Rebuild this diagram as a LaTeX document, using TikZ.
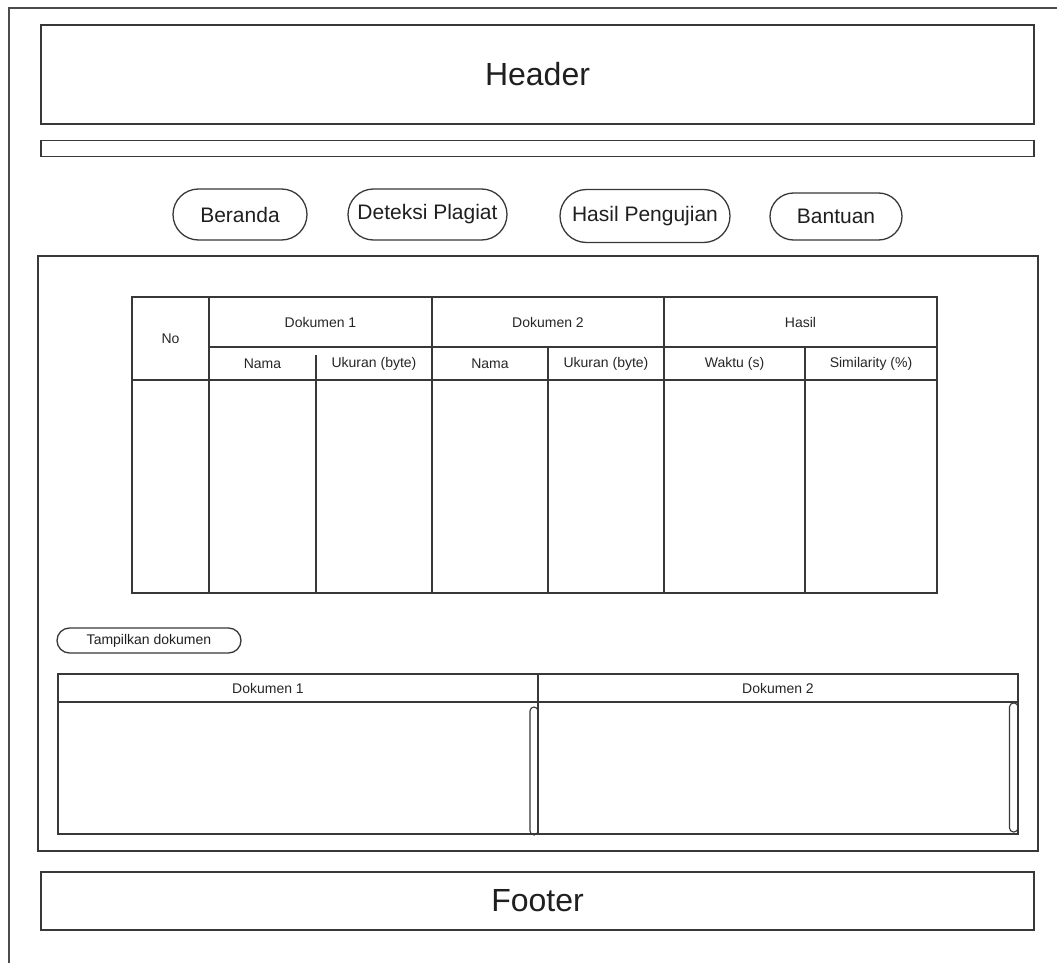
\documentclass[tikz,border=0pt]{standalone}
\usepackage{fontspec}
\setmainfont{Liberation Sans}
\usetikzlibrary{shapes.misc}
\begin{document}
\begin{tikzpicture}[x=1pt,y=-1pt,
  ink/.style={draw=black!78,line width=1.3pt},
  panel/.style={ink,rectangle,inner sep=0pt,text=black!88},
  pill/.style={ink,rounded rectangle,inner sep=0pt,
    minimum height=51pt,text=black!88,font=\fontsize{21}{25}\selectfont},
  bigtext/.style={font=\fontsize{32}{38}\selectfont},
  cell/.style={inner sep=0pt,text=black!85,font=\fontsize{14}{17}\selectfont},
  scroll/.style={ink,line width=1.1pt,rounded corners=4pt}
]
\useasboundingbox (0,0) rectangle (1057,963);

% page frame (open to the right and bottom)
\coordinate (pgbl) at (9,963);
\coordinate (pgtl) at (9,8);
\coordinate (pgtr) at (1057,8);
\draw[ink,draw=black!70] (pgbl) -- (pgtl) -- (pgtr);

% header, separator bar, footer
\node[panel,bigtext,minimum width=993pt,minimum height=99pt] (header) at (537.5,74.5) {Header};
\node[panel,minimum width=993pt,minimum height=16pt] (bar) at (537.5,148.5) {};
\node[panel,bigtext,minimum width=993pt,minimum height=58pt] (footer) at (537.5,901) {Footer};

% navigation buttons
\node[pill,minimum width=134pt] (beranda) at (240,214.5) {Beranda};
\node[pill,minimum width=159pt] (deteksi) at (427.5,214.5) {Deteksi Plagiat};
\node[pill,minimum width=170pt,minimum height=53pt] (hasil) at (645,216) {Hasil Pengujian};
\node[pill,minimum width=132pt,minimum height=47pt] (bantuan) at (836,216.5) {Bantuan};

% content area
\node[panel,minimum width=1000pt,minimum height=595pt] (content) at (538,553.5) {};

% result table
\coordinate (tA) at (132,297);
\coordinate (tB) at (937,593);
\draw[ink] (tA) rectangle (tB);
\draw[ink] (209,297) -- (209,593);
\draw[ink] (432,297) -- (432,593);
\draw[ink] (664,297) -- (664,593);
\draw[ink] (209,347) -- (937,347);
\draw[ink] (132,380) -- (937,380);
\draw[ink] (316,355) -- (316,593);
\draw[ink] (548,347) -- (548,593);
\draw[ink] (805,347) -- (805,593);
\draw[ink,line width=2.2pt] (316,422) -- (316,455);

\node[cell] (hno) at (170.5,338.5) {No};
\node[cell] (hdok1) at (320.5,322) {Dokumen 1};
\node[cell] (hdok2) at (548,322) {Dokumen 2};
\node[cell] (hhasil) at (800.5,322) {Hasil};
\node[cell] (hnama1) at (262.5,363.5) {Nama};
\node[cell] (hukuran1) at (374,363.5) {Ukuran (byte)};
\node[cell] (hnama2) at (490,363.5) {Nama};
\node[cell] (hukuran2) at (606,363.5) {Ukuran (byte)};
\node[cell] (hwaktu) at (734.5,363.5) {Waktu (s)};
\node[cell] (hsim) at (871,363.5) {Similarity (\%)};

% show-documents button
\node[ink,rounded rectangle,inner sep=0pt,minimum width=184pt,
  minimum height=25pt,text=black!88,font=\fontsize{14}{17}\selectfont]
  (tampil) at (149,640.5) {Tampilkan dokumen};

% document viewers
\coordinate (vA) at (58,674);
\coordinate (vB) at (1018,834);
\draw[ink] (vA) rectangle (vB);
\draw[ink] (58,702) -- (1018,702);
\draw[ink] (538,674) -- (538,834);
\node[cell] (vdok1) at (268,688) {Dokumen 1};
\node[cell] (vdok2) at (778,688) {Dokumen 2};
\draw[scroll] (530,707) rectangle (538,835);
\draw[scroll] (1009.5,703) rectangle (1018,832);
\end{tikzpicture}
\end{document}
